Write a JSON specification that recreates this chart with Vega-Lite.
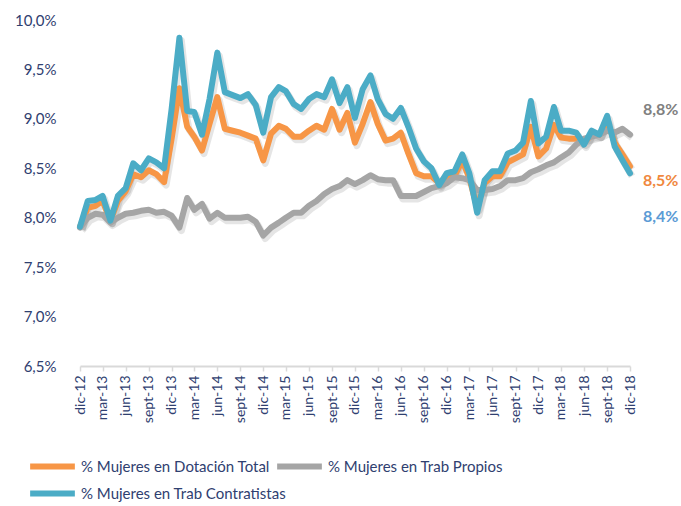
{
  "$schema": "https://vega.github.io/schema/vega-lite/v6.json",
  "width": 550,
  "height": 346,
  "autosize": "none",
  "padding": {"left": 80, "top": 20, "right": 51, "bottom": 140},
  "background": "white",
  "config": {
    "view": {"stroke": null},
    "font": "Lato",
    "text": {"font": "Lato"}
  },
  "data": {
    "values": [
      {"fecha": "2012/12/01", "D": 7.91, "P": 7.90, "C": 7.91},
      {"fecha": "2013/01/01", "D": 8.10, "P": 8.00, "C": 8.17},
      {"fecha": "2013/02/01", "D": 8.12, "P": 8.04, "C": 8.18},
      {"fecha": "2013/03/01", "D": 8.17, "P": 8.03, "C": 8.22},
      {"fecha": "2013/04/01", "D": 7.97, "P": 7.95, "C": 7.97},
      {"fecha": "2013/05/01", "D": 8.17, "P": 8.00, "C": 8.22},
      {"fecha": "2013/06/01", "D": 8.27, "P": 8.04, "C": 8.30},
      {"fecha": "2013/07/01", "D": 8.44, "P": 8.05, "C": 8.55},
      {"fecha": "2013/08/01", "D": 8.41, "P": 8.07, "C": 8.48},
      {"fecha": "2013/09/01", "D": 8.48, "P": 8.08, "C": 8.60},
      {"fecha": "2013/10/01", "D": 8.44, "P": 8.05, "C": 8.56},
      {"fecha": "2013/11/01", "D": 8.36, "P": 8.06, "C": 8.50},
      {"fecha": "2013/12/01", "D": 8.80, "P": 8.02, "C": 9.10},
      {"fecha": "2014/01/01", "D": 9.31, "P": 7.90, "C": 9.82},
      {"fecha": "2014/02/01", "D": 8.92, "P": 8.20, "C": 9.08},
      {"fecha": "2014/03/01", "D": 8.82, "P": 8.08, "C": 9.07},
      {"fecha": "2014/04/01", "D": 8.68, "P": 8.14, "C": 8.84},
      {"fecha": "2014/05/01", "D": 8.95, "P": 7.99, "C": 9.20},
      {"fecha": "2014/06/01", "D": 9.22, "P": 8.05, "C": 9.67},
      {"fecha": "2014/07/01", "D": 8.90, "P": 8.00, "C": 9.27},
      {"fecha": "2014/08/01", "D": 8.88, "P": 8.00, "C": 9.24},
      {"fecha": "2014/09/01", "D": 8.86, "P": 8.00, "C": 9.21},
      {"fecha": "2014/10/01", "D": 8.83, "P": 8.01, "C": 9.25},
      {"fecha": "2014/11/01", "D": 8.80, "P": 7.96, "C": 9.14},
      {"fecha": "2014/12/01", "D": 8.58, "P": 7.82, "C": 8.86},
      {"fecha": "2015/01/01", "D": 8.85, "P": 7.90, "C": 9.22},
      {"fecha": "2015/02/01", "D": 8.93, "P": 7.95, "C": 9.32},
      {"fecha": "2015/03/01", "D": 8.90, "P": 8.00, "C": 9.28},
      {"fecha": "2015/04/01", "D": 8.82, "P": 8.05, "C": 9.15},
      {"fecha": "2015/05/01", "D": 8.82, "P": 8.05, "C": 9.10},
      {"fecha": "2015/06/01", "D": 8.88, "P": 8.12, "C": 9.20},
      {"fecha": "2015/07/01", "D": 8.93, "P": 8.17, "C": 9.25},
      {"fecha": "2015/08/01", "D": 8.89, "P": 8.24, "C": 9.22},
      {"fecha": "2015/09/01", "D": 9.10, "P": 8.29, "C": 9.40},
      {"fecha": "2015/10/01", "D": 8.89, "P": 8.32, "C": 9.16},
      {"fecha": "2015/11/01", "D": 9.06, "P": 8.38, "C": 9.32},
      {"fecha": "2015/12/01", "D": 8.76, "P": 8.34, "C": 9.01},
      {"fecha": "2016/01/01", "D": 8.95, "P": 8.38, "C": 9.30},
      {"fecha": "2016/02/01", "D": 9.17, "P": 8.43, "C": 9.44},
      {"fecha": "2016/03/01", "D": 8.95, "P": 8.39, "C": 9.20},
      {"fecha": "2016/04/01", "D": 8.78, "P": 8.38, "C": 9.05},
      {"fecha": "2016/05/01", "D": 8.80, "P": 8.38, "C": 9.00},
      {"fecha": "2016/06/01", "D": 8.86, "P": 8.22, "C": 9.11},
      {"fecha": "2016/07/01", "D": 8.65, "P": 8.22, "C": 8.92},
      {"fecha": "2016/08/01", "D": 8.45, "P": 8.22, "C": 8.70},
      {"fecha": "2016/09/01", "D": 8.42, "P": 8.26, "C": 8.57},
      {"fecha": "2016/10/01", "D": 8.42, "P": 8.30, "C": 8.50},
      {"fecha": "2016/11/01", "D": 8.35, "P": 8.32, "C": 8.33},
      {"fecha": "2016/12/01", "D": 8.42, "P": 8.35, "C": 8.45},
      {"fecha": "2017/01/01", "D": 8.42, "P": 8.41, "C": 8.47},
      {"fecha": "2017/02/01", "D": 8.58, "P": 8.40, "C": 8.64},
      {"fecha": "2017/03/01", "D": 8.40, "P": 8.38, "C": 8.45},
      {"fecha": "2017/04/01", "D": 8.10, "P": 8.28, "C": 8.05},
      {"fecha": "2017/05/01", "D": 8.35, "P": 8.28, "C": 8.38},
      {"fecha": "2017/06/01", "D": 8.42, "P": 8.29, "C": 8.47},
      {"fecha": "2017/07/01", "D": 8.42, "P": 8.32, "C": 8.47},
      {"fecha": "2017/08/01", "D": 8.56, "P": 8.38, "C": 8.65},
      {"fecha": "2017/09/01", "D": 8.60, "P": 8.38, "C": 8.68},
      {"fecha": "2017/10/01", "D": 8.64, "P": 8.40, "C": 8.76},
      {"fecha": "2017/11/01", "D": 8.92, "P": 8.46, "C": 9.18},
      {"fecha": "2017/12/01", "D": 8.62, "P": 8.49, "C": 8.75},
      {"fecha": "2018/01/01", "D": 8.70, "P": 8.53, "C": 8.82},
      {"fecha": "2018/02/01", "D": 8.94, "P": 8.56, "C": 9.12},
      {"fecha": "2018/03/01", "D": 8.81, "P": 8.61, "C": 8.88},
      {"fecha": "2018/04/01", "D": 8.80, "P": 8.66, "C": 8.88},
      {"fecha": "2018/05/01", "D": 8.80, "P": 8.74, "C": 8.86},
      {"fecha": "2018/06/01", "D": 8.76, "P": 8.80, "C": 8.74},
      {"fecha": "2018/07/01", "D": 8.84, "P": 8.82, "C": 8.88},
      {"fecha": "2018/08/01", "D": 8.84, "P": 8.84, "C": 8.84},
      {"fecha": "2018/09/01", "D": 8.98, "P": 8.88, "C": 9.03},
      {"fecha": "2018/10/01", "D": 8.76, "P": 8.86, "C": 8.72},
      {"fecha": "2018/11/01", "D": 8.64, "P": 8.90, "C": 8.58},
      {"fecha": "2018/12/01", "D": 8.52, "P": 8.84, "C": 8.45}
    ]
  },
  "transform": [
    {"fold": ["D", "P", "C"], "as": ["k", "valor"]}
  ],
  "encoding": {
    "x": {
      "field": "fecha",
      "type": "temporal",
      "scale": {"nice": false},
      "axis": {
        "title": null,
        "grid": false,
        "values": [
          {"year": 2012, "month": 12, "date": 1},
          {"year": 2013, "month": 3, "date": 1},
          {"year": 2013, "month": 6, "date": 1},
          {"year": 2013, "month": 9, "date": 1},
          {"year": 2013, "month": 12, "date": 1},
          {"year": 2014, "month": 3, "date": 1},
          {"year": 2014, "month": 6, "date": 1},
          {"year": 2014, "month": 9, "date": 1},
          {"year": 2014, "month": 12, "date": 1},
          {"year": 2015, "month": 3, "date": 1},
          {"year": 2015, "month": 6, "date": 1},
          {"year": 2015, "month": 9, "date": 1},
          {"year": 2015, "month": 12, "date": 1},
          {"year": 2016, "month": 3, "date": 1},
          {"year": 2016, "month": 6, "date": 1},
          {"year": 2016, "month": 9, "date": 1},
          {"year": 2016, "month": 12, "date": 1},
          {"year": 2017, "month": 3, "date": 1},
          {"year": 2017, "month": 6, "date": 1},
          {"year": 2017, "month": 9, "date": 1},
          {"year": 2017, "month": 12, "date": 1},
          {"year": 2018, "month": 3, "date": 1},
          {"year": 2018, "month": 6, "date": 1},
          {"year": 2018, "month": 9, "date": 1},
          {"year": 2018, "month": 12, "date": 1}
        ],
        "labelExpr": "['ene','feb','mar','abr','may','jun','jul','ago','sept','oct','nov','dic'][month(datum.value)] + '-' + timeFormat(datum.value, '%y')",
        "labelAngle": -90,
        "labelAlign": "right",
        "labelBaseline": "middle",
        "labelFontSize": 14,
        "labelColor": "#2F4070",
        "labelPadding": 4,
        "labelOverlap": false,
        "labelFlush": false,
        "domainColor": "#D9D9D9",
        "domainWidth": 2,
        "tickColor": "#D9D9D9",
        "tickWidth": 1.5,
        "tickSize": 5
      }
    },
    "y": {
      "field": "valor",
      "type": "quantitative",
      "scale": {"domain": [6.5, 10], "nice": false, "zero": false},
      "axis": {
        "title": null,
        "grid": false,
        "domain": false,
        "ticks": false,
        "values": [6.5, 7, 7.5, 8, 8.5, 9, 9.5, 10],
        "labelExpr": "replace(format(datum.value, '.1f'), '.', ',') + '%'",
        "labelFontSize": 15,
        "labelColor": "#2F4070",
        "labelPadding": 24
      }
    }
  },
  "layer": [
    {
      "mark": {"type": "line", "strokeWidth": 7, "color": "#000000", "opacity": 0.1, "xOffset": 2, "yOffset": 3, "strokeJoin": "round"},
      "encoding": {"detail": {"field": "k"}}
    },
    {
      "transform": [{"filter": "datum.k == 'D'"}],
      "mark": {"type": "line", "strokeWidth": 6, "strokeJoin": "round", "strokeCap": "round"},
      "encoding": {
        "color": {
          "field": "k",
          "type": "nominal",
          "scale": {"domain": ["D", "P", "C"], "range": ["#F79646", "#A5A5A5", "#4BACC6"]},
          "legend": {
            "title": null,
            "orient": "none",
            "legendX": -53,
            "legendY": 421,
            "direction": "horizontal",
            "columns": 2,
            "gridAlign": "none",
            "columnPadding": -22,
            "rowPadding": -11,
            "symbolType": "stroke",
            "symbolStrokeWidth": 6,
            "symbolSize": 2000,
            "labelFontSize": 15,
            "labelColor": "#2F4070",
            "labelOffset": 3,
            "labelLimit": 400,
            "labelExpr": "{'D': '% Mujeres en Dotación Total', 'P': '% Mujeres en Trab Propios', 'C': '% Mujeres en Trab Contratistas'}[datum.value]"
          }
        }
      }
    },
    {
      "transform": [{"filter": "datum.k == 'P'"}],
      "mark": {"type": "line", "strokeWidth": 6, "strokeJoin": "round", "strokeCap": "round"},
      "encoding": {"color": {"field": "k", "type": "nominal"}}
    },
    {
      "transform": [{"filter": "datum.k == 'C'"}],
      "mark": {"type": "line", "strokeWidth": 6, "strokeJoin": "round", "strokeCap": "round"},
      "encoding": {"color": {"field": "k", "type": "nominal"}}
    },
    {
      "transform": [
        {"filter": "datum.k == 'P' && year(datum.fecha) == 2018 && month(datum.fecha) == 11"},
        {"calculate": "replace(format(datum.valor, '.1f'), '.', ',') + '%'", "as": "etiqueta"}
      ],
      "mark": {"type": "text", "align": "left", "dx": 13, "dy": -25, "fontSize": 16, "fontWeight": "bold", "color": "#808080"},
      "encoding": {"text": {"field": "etiqueta"}}
    },
    {
      "transform": [
        {"filter": "datum.k == 'D' && year(datum.fecha) == 2018 && month(datum.fecha) == 11"},
        {"calculate": "replace(format(datum.valor, '.1f'), '.', ',') + '%'", "as": "etiqueta"}
      ],
      "mark": {"type": "text", "align": "left", "dx": 13, "dy": 15, "fontSize": 16, "fontWeight": "bold", "color": "#F0883E"},
      "encoding": {"text": {"field": "etiqueta"}}
    },
    {
      "transform": [
        {"filter": "datum.k == 'C' && year(datum.fecha) == 2018 && month(datum.fecha) == 11"},
        {"calculate": "replace(format(datum.valor, '.1f'), '.', ',') + '%'", "as": "etiqueta"}
      ],
      "mark": {"type": "text", "align": "left", "dx": 13, "dy": 44, "fontSize": 16, "fontWeight": "bold", "color": "#5B9BD5"},
      "encoding": {"text": {"field": "etiqueta"}}
    }
  ]
}
